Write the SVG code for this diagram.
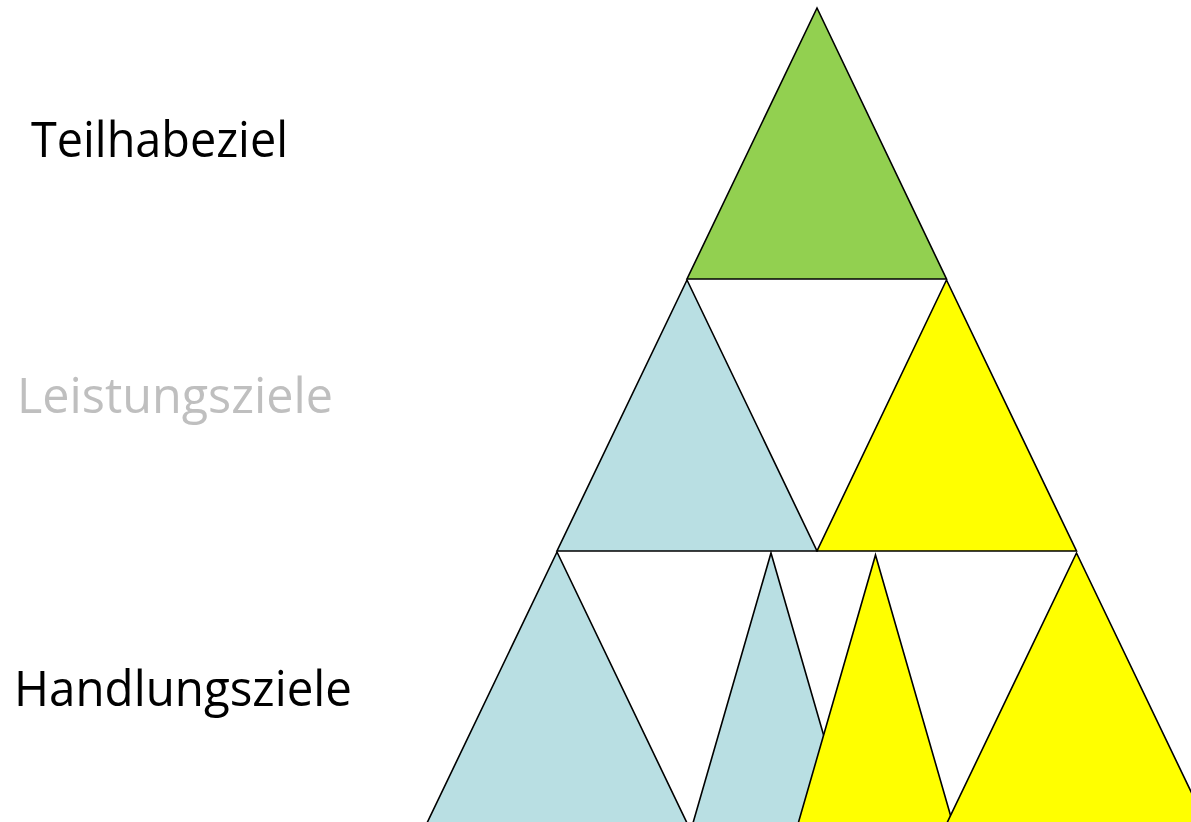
<svg xmlns="http://www.w3.org/2000/svg" width="1191" height="822" viewBox="0 0 1191 822">
<style>
.tri{stroke:#000;stroke-width:1.6;stroke-linejoin:miter}
.green{fill:#92d050}
.blue{fill:#b9dfe3}
.yellow{fill:#ffff00}
.lbl{font-family:"Open Sans","Noto Sans","Liberation Sans",sans-serif;font-size:50px}
</style>
<rect width="1191" height="822" fill="#fff"/>
<g id="label-teilhabeziel"><text class="lbl" x="31" y="157" fill="#000" textLength="257" lengthAdjust="spacingAndGlyphs">Teilhabeziel</text></g>
<g id="label-leistungsziele"><text class="lbl" x="17" y="413" fill="#bfbfbf" textLength="316" lengthAdjust="spacingAndGlyphs">Leistungsziele</text></g>
<g id="label-handlungsziele"><text class="lbl" x="14" y="706" fill="#000" textLength="338" lengthAdjust="spacingAndGlyphs">Handlungsziele</text></g>
<g id="tri-top"><polygon class="tri green" points="817,8 946.5,279 687,279"/></g>
<g id="tri-mid-left"><polygon class="tri blue" points="687,280 817,551 557,551"/></g>
<g id="tri-mid-right"><polygon class="tri yellow" points="946.5,280 1076.5,551 817,551"/></g>
<g id="tri-bot-1"><polygon class="tri blue" points="557,552 687,823 427,823"/></g>
<g id="tri-bot-2"><polygon class="tri blue" points="771,553 849,823 693,823"/></g>
<g id="tri-bot-3"><polygon class="tri yellow" points="875.5,555 953,824 798,824"/></g>
<g id="tri-bot-4"><polygon class="tri yellow" points="1076.5,553 1207,825 946,825"/></g>
<g id="connectors"></g>
</svg>
